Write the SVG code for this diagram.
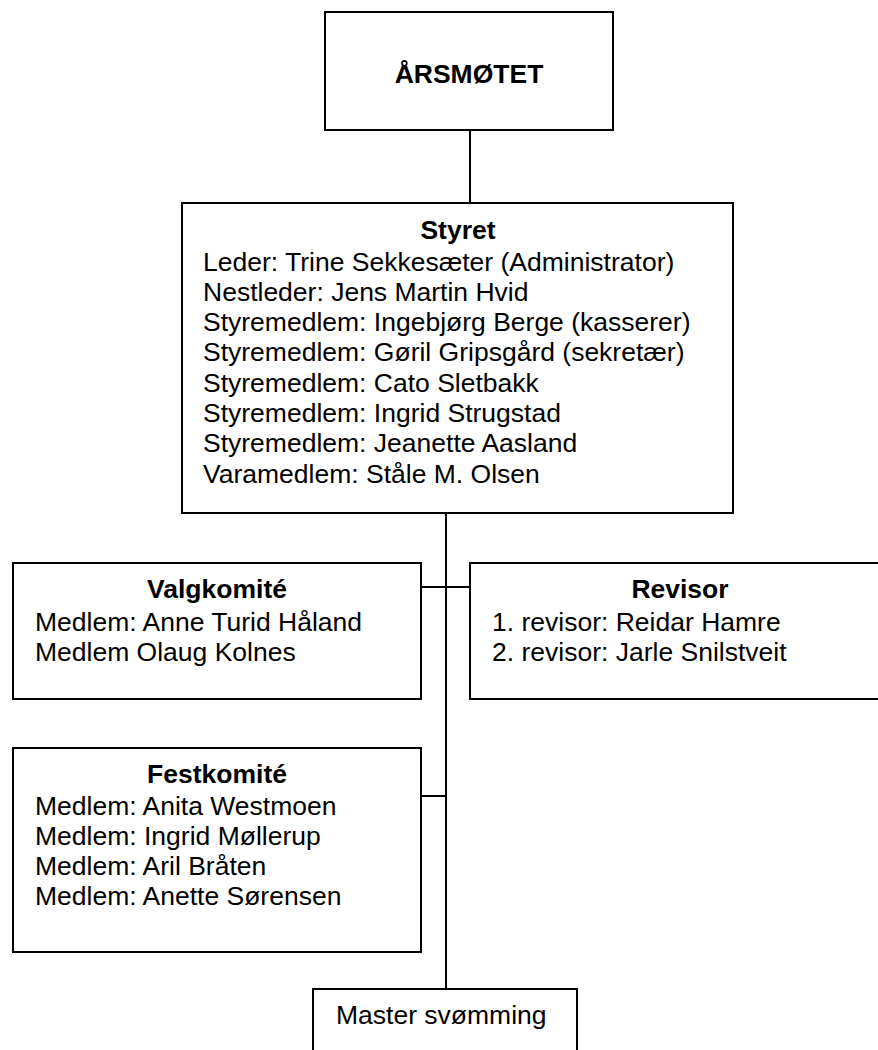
<svg xmlns="http://www.w3.org/2000/svg" width="878" height="1050" viewBox="0 0 878 1050">
<style>
.box{fill:#fff;stroke:#000;stroke-width:2}
.ln{stroke:#000;stroke-width:2;fill:none}
text{font-family:"Liberation Sans",Arial,sans-serif;font-size:26.5px;fill:#000}
.t{font-weight:bold;text-anchor:middle}
</style>
<g id="connectors">
<line class="ln" x1="470" y1="130" x2="470" y2="203"/>
<line class="ln" x1="446" y1="513" x2="446" y2="989"/>
<line class="ln" x1="421" y1="587" x2="470" y2="587"/>
<line class="ln" x1="421" y1="796" x2="446" y2="796"/>
</g>
<g id="arsmotet">
<rect class="box" x="325" y="12" width="288" height="118"/>
<text class="t" x="469" y="83">ÅRSMØTET</text>
</g>
<g id="styret">
<rect class="box" x="182" y="203" width="551" height="310"/>
<text class="t" x="458" y="239">Styret</text>
<text x="203" y="270.5">Leder: Trine Sekkesæter (Administrator)</text>
<text x="203" y="300.8">Nestleder: Jens Martin Hvid</text>
<text x="203" y="331.1">Styremedlem: Ingebjørg Berge (kasserer)</text>
<text x="203" y="361.4">Styremedlem: Gøril Gripsgård (sekretær)</text>
<text x="203" y="391.7">Styremedlem: Cato Sletbakk</text>
<text x="203" y="422">Styremedlem: Ingrid Strugstad</text>
<text x="203" y="452.3">Styremedlem: Jeanette Aasland</text>
<text x="203" y="482.6">Varamedlem: Ståle M. Olsen</text>
</g>
<g id="valgkomite">
<rect class="box" x="13" y="563" width="408" height="136"/>
<text class="t" x="217" y="598">Valgkomité</text>
<text x="35" y="631">Medlem: Anne Turid Håland</text>
<text x="35" y="661">Medlem Olaug Kolnes</text>
</g>
<g id="revisor">
<rect class="box" x="470" y="563" width="420" height="136"/>
<text class="t" x="680" y="598">Revisor</text>
<text x="492" y="631">1. revisor: Reidar Hamre</text>
<text x="492" y="661">2. revisor: Jarle Snilstveit</text>
</g>
<g id="festkomite">
<rect class="box" x="13" y="748" width="408" height="204"/>
<text class="t" x="217" y="783">Festkomité</text>
<text x="35" y="815">Medlem: Anita Westmoen</text>
<text x="35" y="845">Medlem: Ingrid Møllerup</text>
<text x="35" y="875">Medlem: Aril Bråten</text>
<text x="35" y="905">Medlem: Anette Sørensen</text>
</g>
<g id="master">
<rect class="box" x="313" y="989" width="264" height="80"/>
<text x="336" y="1024">Master svømming</text>
</g>
</svg>
